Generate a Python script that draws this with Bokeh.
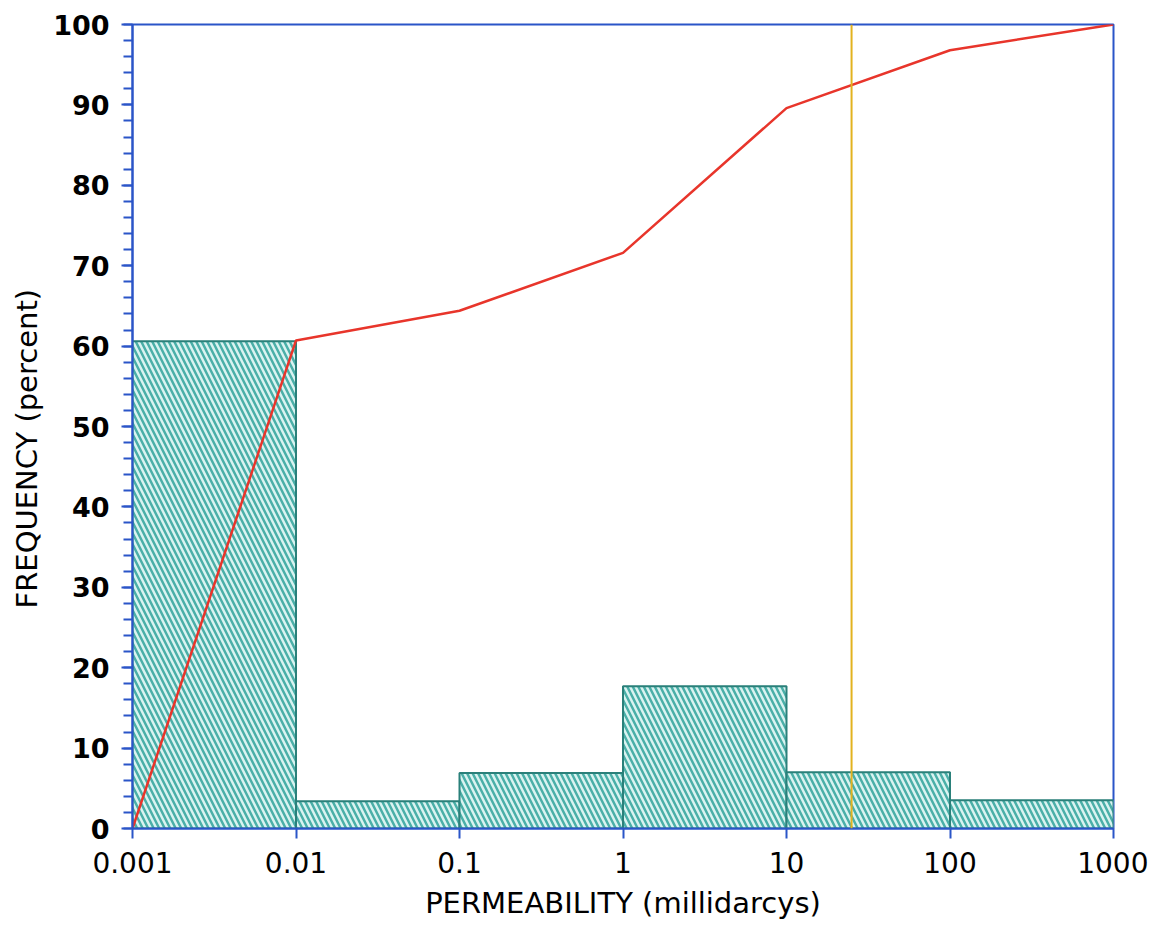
from bokeh.plotting import figure
from bokeh.models import FixedTicker, SingleIntervalTicker, Span, Range1d, Title
from bokeh.embed import file_html
from bokeh.resources import INLINE

# ---- data ----
bin_left = [0.001, 0.01, 0.1, 1, 10, 100]
bin_right = [0.01, 0.1, 1, 10, 100, 1000]
bin_freq = [60.6, 3.4, 6.9, 17.7, 7.0, 3.5]

cum_x = [0.001, 0.01, 0.1, 1, 10, 100, 1000]
cum_y = [0.0, 60.7, 64.4, 71.6, 89.6, 96.8, 100.0]

median_perm = 25.0  # vertical marker (millidarcys)

x_ticks = [0.001, 0.01, 0.1, 1, 10, 100, 1000]
x_tick_labels = ["0.001", "0.01", "0.1", "1", "10", "100", "1000"]

BLUE = "#2a55c8"
TEAL_DARK = "#2a807a"
TEAL = "#4aafa8"
TEAL_LIGHT = "#daf3f1"
RED = "#e8352b"
YELLOW = "#e2b21f"
FONT = "DejaVu Sans"

p = figure(width=1148, height=927, x_axis_type="log",
           x_range=Range1d(0.001, 1000), y_range=Range1d(0, 100),
           output_backend="svg", toolbar_location=None,
           min_border_left=132, min_border_right=35,
           min_border_top=24, min_border_bottom=99)

p.background_fill_color = "white"
p.border_fill_color = "white"
p.grid.visible = False
p.outline_line_color = BLUE
p.outline_line_width = 2
p.outline_line_alpha = 1

# histogram bars
p.quad(left=bin_left, right=bin_right, bottom=0, top=bin_freq,
       fill_color=TEAL_LIGHT, line_color=TEAL_DARK, line_width=2,
       hatch_pattern="\\", hatch_color=TEAL, hatch_weight=2.5, hatch_scale=11)

# vertical marker line
p.add_layout(Span(location=median_perm, dimension="height",
                  line_color=YELLOW, line_width=2))

# cumulative curve
p.line(cum_x, cum_y, line_color=RED, line_width=2.5)

# x axis
xa = p.xaxis[0]
xa.ticker = FixedTicker(ticks=x_ticks, minor_ticks=[])
xa.major_label_overrides = {t: l for t, l in zip(x_ticks, x_tick_labels)}
xa.axis_line_color = BLUE
xa.axis_line_width = 2
xa.major_tick_line_color = BLUE
xa.major_tick_line_width = 2
xa.major_tick_out = 10
xa.major_tick_in = 0
xa.minor_tick_line_color = None
xa.major_label_text_font = FONT
xa.major_label_text_font_size = "28px"
xa.major_label_text_color = "black"
xa.major_label_standoff = 13
xa.axis_label = "PERMEABILITY (millidarcys)"
xa.axis_label_text_font = FONT
xa.axis_label_text_font_size = "29px"
xa.axis_label_text_font_style = "normal"
xa.axis_label_text_color = "black"
xa.axis_label_standoff = 10

# y axis
ya = p.yaxis[0]
ya.ticker = SingleIntervalTicker(interval=10, num_minor_ticks=5)
ya.axis_line_color = BLUE
ya.axis_line_width = 2
ya.major_tick_line_color = BLUE
ya.major_tick_line_width = 2
ya.major_tick_out = 11
ya.major_tick_in = 0
ya.minor_tick_line_color = BLUE
ya.minor_tick_line_width = 2
ya.minor_tick_out = 9
ya.minor_tick_in = 0
ya.major_label_text_font = FONT
ya.major_label_text_font_size = "27px"
ya.major_label_text_font_style = "bold"
ya.major_label_text_color = "black"
ya.major_label_standoff = 12

# y axis title, a little below the frame centre as in the reference
p.add_layout(Title(text="FREQUENCY (percent)", align="left", offset=220,
                   text_font=FONT, text_font_size="29px",
                   text_font_style="normal", text_color="black",
                   standoff=13), "left")

open("out.html", "w").write(file_html(p, INLINE))
